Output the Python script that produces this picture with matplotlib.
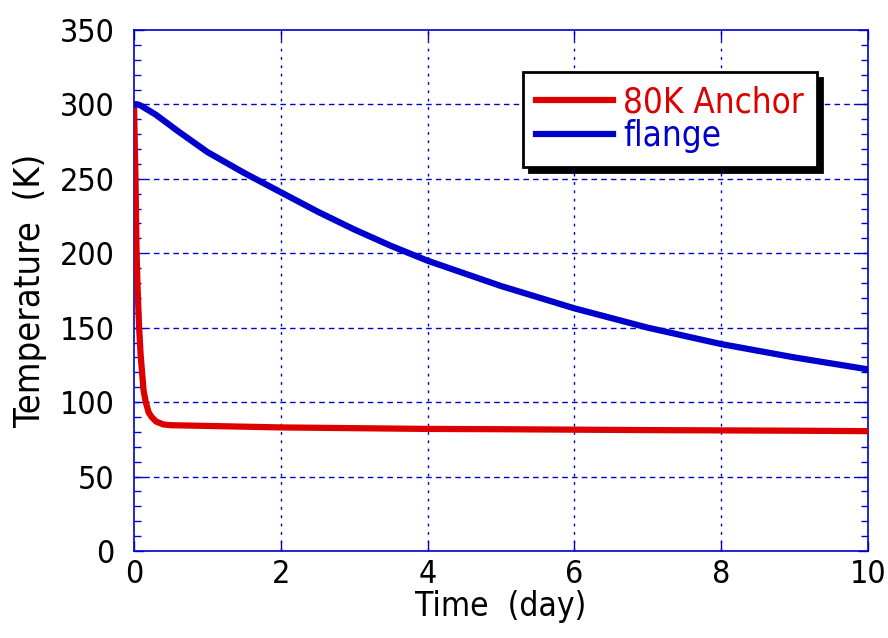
import matplotlib.pyplot as plt
from matplotlib.ticker import MultipleLocator

# data
anchor_t = [0, 0.01, 0.02, 0.035, 0.05, 0.07, 0.09, 0.11, 0.13, 0.16, 0.2,
            0.24, 0.3, 0.4, 0.5, 1, 1.5, 2, 3, 4, 5, 6, 7, 8, 9, 10]
anchor_T = [300, 275, 250, 200, 175, 150, 132, 120, 108, 100, 93,
            90, 87, 85, 84.5, 84, 83.5, 83, 82.5, 82, 81.8, 81.5, 81.2, 81, 80.8, 80.5]

flange_t = [0, 0.05, 0.1, 0.3, 0.6, 1, 1.5, 2, 2.5, 3, 3.5, 4, 5, 6, 7, 8, 9, 10]
flange_T = [300, 300, 299, 293, 282, 268, 254, 241, 228, 216, 205, 195,
            178, 163, 150, 139, 130, 122]

series_names = ['80K Anchor', 'flange']
series_colors = ['#dd0000', '#0000cc']

plt.rcParams['font.family'] = ['DejaVu Sans']
plt.rcParams['font.stretch'] = 'condensed'

fig = plt.figure(figsize=(8.88, 6.38), dpi=100)
ax = fig.add_axes([0.1509, 0.1364, 0.8266, 0.8166])

ax.plot(anchor_t, anchor_T, color=series_colors[0], lw=4.5,
        label=series_names[0], solid_joinstyle='round', zorder=3)
ax.plot(flange_t, flange_T, color=series_colors[1], lw=4.5,
        label=series_names[1], solid_joinstyle='round', zorder=3)

ax.set_xlim(0, 10)
ax.set_ylim(0, 350)
ax.xaxis.set_major_locator(MultipleLocator(2))
ax.yaxis.set_major_locator(MultipleLocator(50))
ax.yaxis.set_minor_locator(MultipleLocator(10))

grid_c = '#0000cc'
for xv in [2, 4, 6, 8]:
    ax.axvline(xv, color=grid_c, lw=1, ls=(0, (2, 4)), zorder=1)
for yv in [50, 100, 150, 200, 250, 300]:
    ax.axhline(yv, color=grid_c, lw=1, ls=(0, (4, 3)), zorder=1)

for s in ax.spines.values():
    s.set_color(grid_c)
    s.set_linewidth(1.2)

ax.tick_params(which='both', direction='in', color=grid_c, top=True, right=True,
               labelcolor='black', labelsize=23)
ax.tick_params(which='major', length=7, width=1)
ax.tick_params(which='minor', length=5, width=1)
ax.tick_params(axis='y', pad=14)
ax.tick_params(axis='x', pad=6)

ax.set_xlabel('Time  (day)', fontsize=24, labelpad=0)
ax.set_ylabel('Temperature  (K)', fontsize=26, labelpad=9)

leg = ax.legend(loc='upper left', bbox_to_anchor=(0.53, 0.919), borderaxespad=0,
                fancybox=False, fontsize=25, handlelength=2.2, handletextpad=0.3,
                borderpad=0.38, labelspacing=0.0,
                shadow={'ox': 4, 'oy': -4, 'facecolor': 'black',
                        'edgecolor': 'black', 'alpha': 1})
leg.get_frame().set_edgecolor('black')
leg.get_frame().set_linewidth(2)
for txt, c in zip(leg.get_texts(), series_colors):
    txt.set_color(c)

fig.savefig('out.png', dpi=100)
